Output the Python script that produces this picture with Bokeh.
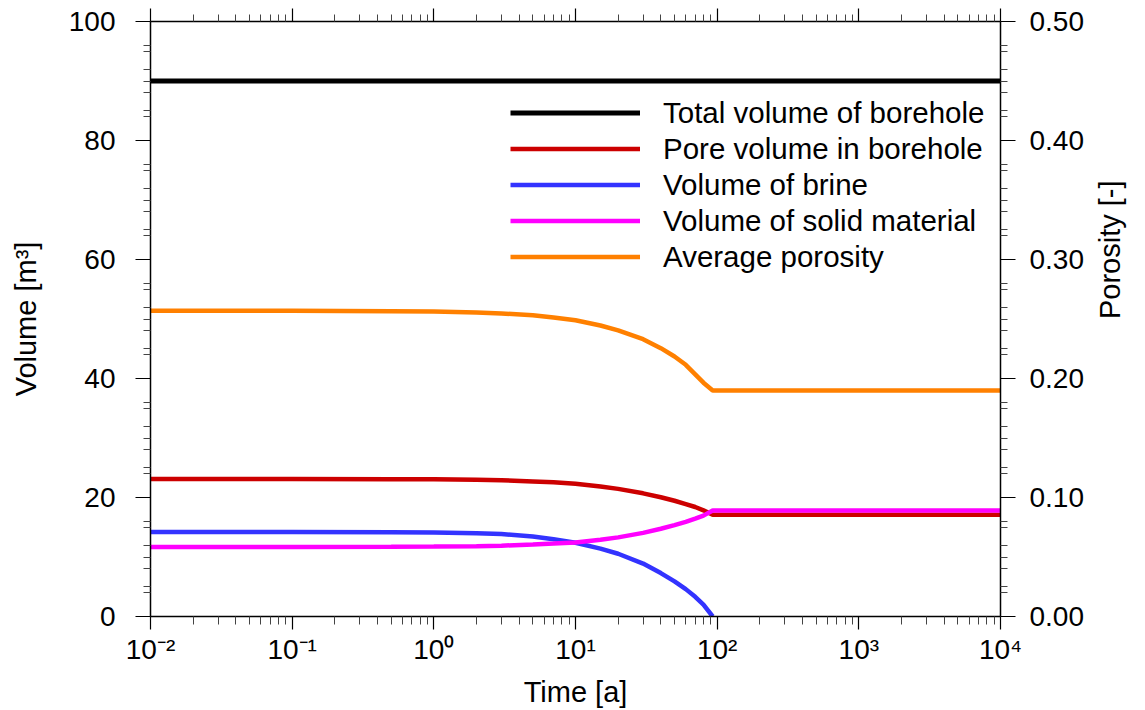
import math
from bokeh.plotting import figure
from bokeh.models import (Range1d, LinearAxis, LogAxis, FixedTicker, Legend, LegendItem,
                          CustomJSTickFormatter, NumeralTickFormatter)
from bokeh.embed import file_html
from bokeh.resources import INLINE

# ---------------- data ----------------
time_a = [0.01, 0.1, 0.5, 1, 2, 3, 5, 7, 10, 15, 20, 30, 40, 50, 60, 70, 80, 93, 1e4]
total_volume = [90.0] * len(time_a)
pore_volume = [23.1, 23.1, 23.08, 23.05, 22.98, 22.9, 22.7, 22.55, 22.3, 21.85, 21.45,
               20.7, 20.05, 19.45, 18.9, 18.4, 17.85, 17.1, 17.1]
time_brine = [0.01, 0.1, 0.5, 1, 2, 3, 5, 7, 10, 15, 20, 30, 40, 50, 60, 70, 80, 93]
brine_volume = [14.2, 14.2, 14.15, 14.1, 14.0, 13.85, 13.45, 13.0, 12.4, 11.4, 10.55,
                8.9, 7.3, 5.9, 4.6, 3.3, 2.0, 0.0]
solid_volume = [11.7, 11.7, 11.72, 11.75, 11.82, 11.9, 12.1, 12.25, 12.45, 12.9, 13.3,
                14.05, 14.75, 15.35, 15.9, 16.45, 16.95, 17.8, 17.8]
avg_porosity = [0.257, 0.257, 0.2566, 0.2562, 0.2555, 0.2547, 0.2532, 0.2513, 0.249,
                0.2445, 0.2405, 0.233, 0.2255, 0.2185, 0.2115, 0.2035, 0.1965, 0.190, 0.190]

x_ticks = [1e-2, 1e-1, 1e0, 1e1, 1e2, 1e3, 1e4]
y_ticks = [0, 20, 40, 60, 80, 100]
por_ticks = [0.0, 0.1, 0.2, 0.3, 0.4, 0.5]
labels = ["Total volume of borehole", "Pore volume in borehole", "Volume of brine",
          "Volume of solid material", "Average porosity"]
colors = ["#000000", "#CC0000", "#3333FF", "#FF00FF", "#FF8000"]

FONT = "Liberation Sans"
FS = "28px"
FS_LABEL = "29px"
FS_LEGEND = "29.5px"

x_minor = [m * 10 ** e for e in range(-2, 4) for m in range(2, 10)]
y_minor = [b + o for b in range(0, 100, 20) for o in (4, 5, 8, 10, 12, 15, 16)]
por_minor = [v / 200.0 for v in y_minor]

p = figure(width=1145, height=710, x_axis_type="log",
           x_range=Range1d(x_ticks[0], x_ticks[-1]), y_range=Range1d(y_ticks[0], y_ticks[-1]),
           output_backend="svg", toolbar_location=None,
           min_border_left=150, min_border_right=145, min_border_top=21, min_border_bottom=92)
p.extra_y_ranges = {"por": Range1d(por_ticks[0], por_ticks[-1])}
p.grid.visible = False
p.outline_line_color = None

fmt = CustomJSTickFormatter(code="""
const sup = {'-':'\u207B','0':'\u2070','1':'\u00B9','2':'\u00B2','3':'\u00B3','4':'\u2074',
             '5':'\u2075','6':'\u2076','7':'\u2077','8':'\u2078','9':'\u2079'};
const e = Math.round(Math.log10(tick));
return '10' + String(e).split('').map(c => sup[c]).join('');
""")

def style(ax, major_out, minor_out):
    ax.axis_line_color = "black"
    ax.axis_line_width = 1.5
    ax.major_tick_line_color = "black"
    ax.minor_tick_line_color = "#444444"
    ax.major_tick_line_width = 1.2
    ax.minor_tick_line_width = 1
    ax.major_tick_in = 0
    ax.minor_tick_in = 0
    ax.major_tick_out = major_out
    ax.minor_tick_out = minor_out
    ax.major_label_text_font = FONT
    ax.major_label_text_font_size = FS
    ax.major_label_text_color = "black"
    ax.axis_label_text_font = FONT
    ax.axis_label_text_font_size = FS_LABEL
    ax.axis_label_text_font_style = "normal"
    ax.axis_label_text_color = "black"

# bottom
xb = p.xaxis[0]
xb.ticker = FixedTicker(ticks=x_ticks, minor_ticks=x_minor)
xb.formatter = fmt
style(xb, 13, 8)
xb.axis_label = "Time [a]"
xb.major_label_standoff = 4
xb.axis_label_standoff = 8

# left
yl = p.yaxis[0]
yl.ticker = FixedTicker(ticks=y_ticks, minor_ticks=y_minor)
style(yl, 15, 7)
yl.axis_label = "Volume [m³]"
yl.major_label_standoff = 20
yl.axis_label_standoff = 24

# top
xt = LogAxis(ticker=FixedTicker(ticks=x_ticks, minor_ticks=x_minor))
style(xt, 13, 7)
xt.major_label_text_font_size = "1px"
xt.major_label_text_color = None
xt.major_label_standoff = 0
p.add_layout(xt, "above")

# right
yr = LinearAxis(y_range_name="por", ticker=FixedTicker(ticks=por_ticks, minor_ticks=por_minor),
                formatter=NumeralTickFormatter(format="0.00"))
style(yr, 15, 7)
yr.major_label_standoff = 14
yr.axis_label = "Porosity [-]"
yr.axis_label_standoff = 23
yr.axis_label_text_line_height = 0.8
yr.axis_label_text_baseline = "top"
try:
    yr.axis_label_orientation = math.pi / 2
except Exception:
    pass
p.add_layout(yr, "right")

# lines
r0 = p.line(time_a, total_volume, line_color=colors[0], line_width=5)
r1 = p.line(time_a, pore_volume, line_color=colors[1], line_width=4.5)
r2 = p.line(time_brine, brine_volume, line_color=colors[2], line_width=4.5)
r3 = p.line(time_a, solid_volume, line_color=colors[3], line_width=4.5)
r4 = p.line(time_a, avg_porosity, line_color=colors[4], line_width=4.5, y_range_name="por")

legend = Legend(items=[LegendItem(label=l, renderers=[r]) for l, r in zip(labels, [r0, r1, r2, r3, r4])],
                location=(360, 342), orientation="vertical")
legend.label_text_font = FONT
legend.label_text_font_size = FS_LEGEND
legend.label_text_color = "black"
legend.glyph_width = 130
legend.glyph_height = 35
legend.label_height = 35
legend.spacing = 1
legend.label_standoff = 23
legend.padding = 0
legend.margin = 0
legend.background_fill_alpha = 0
legend.border_line_alpha = 0
p.add_layout(legend, "center")

open("out.html", "w").write(file_html(p, INLINE))
